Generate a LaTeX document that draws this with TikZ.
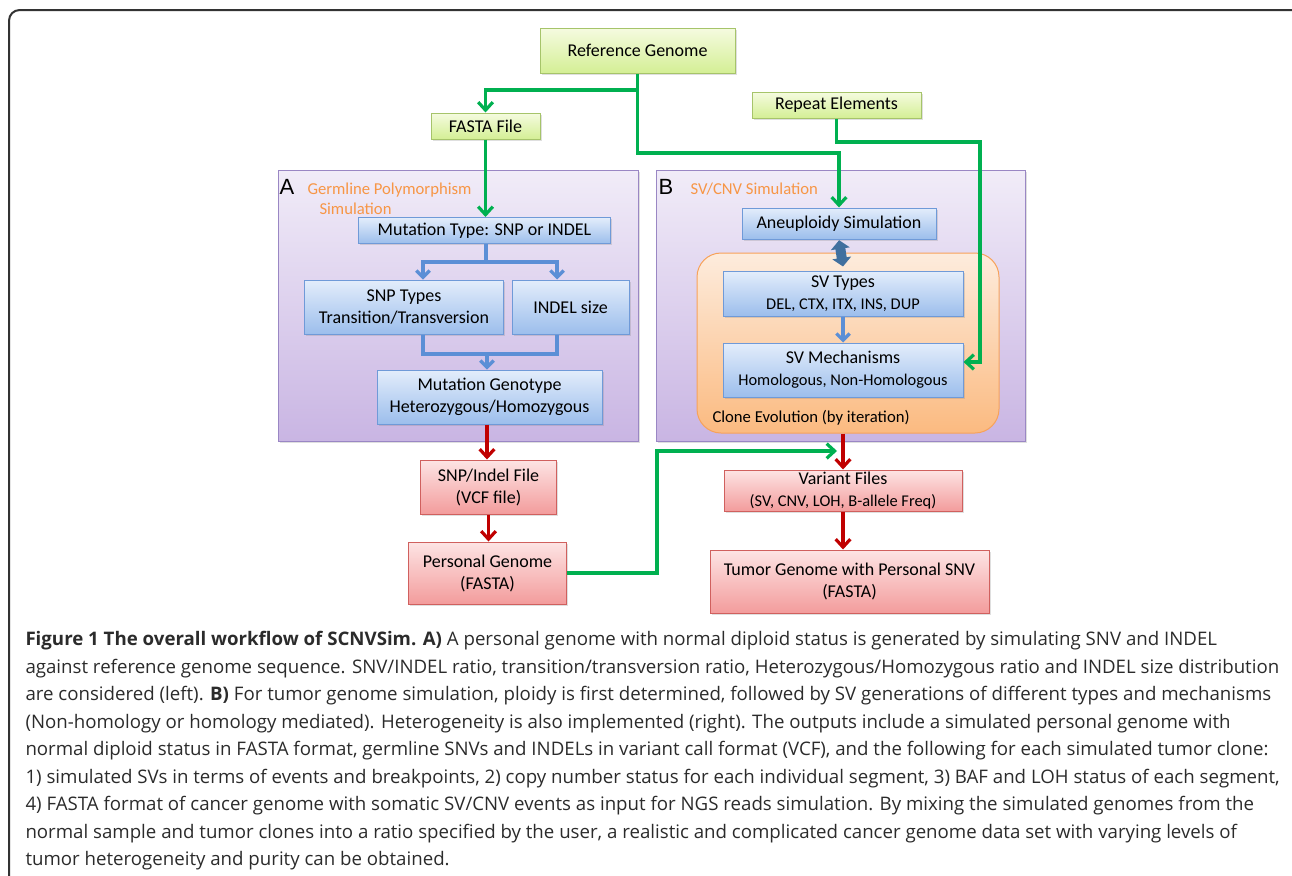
\documentclass[tikz,border=0pt]{standalone}
\usepackage{fontspec}
\setmainfont{Carlito}
\newfontfamily\letterfont{Liberation Sans}
\newfontfamily\captionfont{Open Sans}
\usetikzlibrary{arrows.meta,shadows}
\tikzset{every picture/.style={line width=0.75pt}}

\definecolor{grnline}{HTML}{00B050}
\definecolor{grnborder}{HTML}{A6C46A}
\definecolor{grntop}{HTML}{F5FBE0}
\definecolor{grnbot}{HTML}{D4EF95}
\definecolor{bluborder}{HTML}{6F9AD8}
\definecolor{blutop}{HTML}{E3EDFB}
\definecolor{blubot}{HTML}{9CBEEC}
\definecolor{bluline}{HTML}{5B8FD6}
\definecolor{redborder}{HTML}{D0605E}
\definecolor{redtop}{HTML}{FDE4E4}
\definecolor{redbot}{HTML}{F39C9C}
\definecolor{redline}{HTML}{C00000}
\definecolor{purtop}{HTML}{F1ECF8}
\definecolor{purbot}{HTML}{C9B5E3}
\definecolor{purborder}{HTML}{9A87C4}
\definecolor{orgtop}{HTML}{FDECDD}
\definecolor{orgbot}{HTML}{FBBA80}
\definecolor{orgborder}{HTML}{F7A25A}
\definecolor{orgtext}{HTML}{F79646}
\definecolor{dblblue}{HTML}{41709F}
\definecolor{captext}{HTML}{2B2B2B}
\definecolor{framecol}{HTML}{333333}

\tikzset{
  flowbox/.style={draw, inner sep=0pt, align=center, font=\fontsize{13.5}{16.5}\selectfont,
    drop shadow={opacity=0.25,shadow xshift=1.2pt,shadow yshift=-1.2pt}},
  greenbox/.style={flowbox, draw=grnborder, top color=grntop, bottom color=grnbot},
  bluebox/.style={flowbox, draw=bluborder, top color=blutop, bottom color=blubot},
  redbox/.style={flowbox, draw=redborder, top color=redtop, bottom color=redbot},
  panel/.style={draw=purborder, inner sep=0pt, top color=purtop, bottom color=purbot,
    drop shadow={opacity=0.25,shadow xshift=1.2pt,shadow yshift=-1.2pt}},
  clonebox/.style={draw=orgborder, inner sep=0pt, rounded corners=18pt, top color=orgtop, bottom color=orgbot},
  greenline/.style={draw=grnline, line width=2.4pt},
  greenarrow/.style={greenline, -{Straight Barb[length=6pt,width=11pt]}},
  blueline/.style={draw=bluline, line width=2.4pt},
  bluearrow/.style={blueline, -{Straight Barb[length=5pt,width=10pt]}},
  redarrow/.style={draw=redline, line width=2.4pt, -{Straight Barb[length=6pt,width=11pt]}},
  dblarrow/.style={draw=dblblue, line width=7.5pt, {Triangle[length=6.5pt,width=14pt]}-{Triangle[length=6.5pt,width=14pt]}},
  sublabel/.style={font=\fontsize{12.5}{15}\selectfont, text=orgtext, inner sep=0pt, align=left},
  letter/.style={font=\letterfont\fontsize{16.5}{18}\selectfont, inner sep=0pt}
}
\newcommand{\subline}[1]{{\fontsize{12.3}{15}\selectfont #1}}

\begin{document}
\begin{tikzpicture}[x=0.75pt,y=0.75pt,yscale=-1,xscale=1]
\clip (0,0) rectangle (1292,875);

%Rounded Rect (frame)
\draw [draw=framecol, line width=1.5pt, rounded corners=8pt] (9,10) rectangle (1320,920);

%Shape: Rectangle (panel A)
\node (panelA) [panel, minimum width=270pt, minimum height=203.25pt] at (458,305.5) {};
%Shape: Rectangle (panel B)
\node (panelB) [panel, minimum width=276.75pt, minimum height=203.25pt] at (840.5,305.5) {};
%Rounded Rect (clone evolution)
\node (clone) [clonebox, minimum width=226.5pt, minimum height=135pt] at (848,343) {};

% Text Node
\node (letterA) [letter, anchor=west] at (279,187) {A};
% Text Node
\node (titleA) [sublabel, anchor=north west] at (307,182) {Germline Polymorphism\\\hspace*{9pt}Simulation};
% Text Node
\node (letterB) [letter, anchor=west] at (658,187) {B};
% Text Node
\node (titleB) [sublabel, anchor=north west] at (690,182) {SV/CNV Simulation};
% Text Node
\node (cloneText) [sublabel, text=black, anchor=west] at (712,418) {Clone Evolution (by iteration)};

%Green boxes
\node (refGenome) [greenbox, minimum width=146.25pt, minimum height=33.75pt] at (637.5,50.5) {Reference Genome};
\node (fastaFile) [greenbox, minimum width=81.75pt, minimum height=19.5pt] at (485.5,126) {FASTA File};
\node (repeatEl) [greenbox, minimum width=126.75pt, minimum height=19.5pt] at (836.5,105) {Repeat Elements};

%Blue boxes, panel A
\node (mutType) [bluebox, minimum width=189pt, minimum height=19.5pt] at (484.5,230.5) {Mutation Type: SNP or INDEL};
\node (snpTypes) [bluebox, minimum width=149.25pt, minimum height=40.5pt] at (404,307) {SNP Types\\Transition/Transversion};
\node (indelSize) [bluebox, minimum width=87.75pt, minimum height=40.5pt] at (570.5,307) {INDEL size};
\node (mutGeno) [bluebox, minimum width=168.75pt, minimum height=40.5pt] at (489.5,397) {Mutation Genotype\\Heterozygous/Homozygous};

%Blue boxes, panel B
\node (aneuSim) [bluebox, minimum width=145.5pt, minimum height=23.25pt] at (839,223.5) {Aneuploidy Simulation};
\node (svTypes) [bluebox, minimum width=180pt, minimum height=33.75pt] at (843,293.5) {SV Types\\\subline{DEL, CTX, ITX, INS, DUP}};
\node (svMech) [bluebox, minimum width=180pt, minimum height=40.5pt] at (843,370) {SV Mechanisms\\\subline{Homologous, Non-Homologous}};

%Red boxes
\node (snpFile) [redbox, minimum width=102pt, minimum height=40.5pt] at (488.5,487) {SNP/Indel File\\(VCF file)};
\node (persGenome) [redbox, minimum width=118.5pt, minimum height=46.5pt] at (487.5,573) {Personal Genome\\(FASTA)};
\node (varFiles) [redbox, minimum width=178.5pt, minimum height=30.75pt] at (843,490.5) {Variant Files\\\subline{(SV, CNV, LOH, B-allele Freq)}};
\node (tumorGenome) [redbox, minimum width=209.25pt, minimum height=47.25pt] at (849.5,581.5) {Tumor Genome with Personal SNV\\(FASTA)};

%Bend points
\coordinate (refSplit) at (637.5,90);
\coordinate (refDown) at (637.5,153);
\coordinate (repBend) at (980,142);
\coordinate (repIn) at (980,362);
\coordinate (mutSplit) at (486,262);
\coordinate (splitL) at (423,262);
\coordinate (splitR) at (557,262);
\coordinate (mergeL) at (423,354);
\coordinate (mergeR) at (557,354);
\coordinate (mergeM) at (487,354);
\coordinate (persBend) at (657,451);
\coordinate (persEnd) at (837,451);

%Straight Lines (green)
\draw [greenarrow] (refGenome.south) -- (refSplit) -| (fastaFile.north);
\draw [greenarrow] (refSplit) -- (refDown) -| (aneuSim.north);
\draw [greenarrow] (repeatEl.south) |- (repBend) -- (repIn) -- (repIn -| svMech.east);
\draw [greenarrow] (fastaFile.south) -- (fastaFile.south |- mutType.north);
\draw [greenarrow] (persGenome.east) -| (persBend) -- (persEnd);

%Straight Lines (blue)
\draw [blueline] (mutType.south -| mutSplit) -- (mutSplit);
\draw [bluearrow] (mutSplit) -- (splitL) -- (splitL |- snpTypes.north);
\draw [bluearrow] (mutSplit) -- (splitR) -- (splitR |- indelSize.north);
\draw [blueline] (splitL |- snpTypes.south) -- (mergeL) -- (mergeR) -- (splitR |- indelSize.south);
\draw [bluearrow] (mergeM) -- (mergeM |- mutGeno.north);
\draw [bluearrow] (svTypes.south) -- (svMech.north);
\draw [dblarrow, shorten <=0.5pt] (aneuSim.south) -- ([yshift=-3pt]svTypes.north);

%Straight Lines (red)
\draw [redarrow] (mutGeno.south -| mergeM) -- (mergeM |- snpFile.north);
\draw [redarrow] (snpFile.south) -- (snpFile.south |- persGenome.north);
\draw [redarrow] (varFiles.north |- clone.south) -- (varFiles.north);
\draw [redarrow] (varFiles.south) -- (varFiles.south |- tumorGenome.north);

% Text Node (caption)
\node (caption) [anchor=north west, align=left, inner sep=0pt, text=captext, font=\captionfont\fontsize{14}{20.6}\selectfont] at (25,631) {%
\textbf{Figure 1 The overall workflow of SCNVSim. A)} A personal genome with normal diploid status is generated by simulating SNV and INDEL\\
against reference genome sequence. SNV/INDEL ratio, transition/transversion ratio, Heterozygous/Homozygous ratio and INDEL size distribution\\
are considered (left). \textbf{B)} For tumor genome simulation, ploidy is first determined, followed by SV generations of different types and mechanisms\\
(Non-homology or homology mediated). Heterogeneity is also implemented (right). The outputs include a simulated personal genome with\\
normal diploid status in FASTA format, germline SNVs and INDELs in variant call format (VCF), and the following for each simulated tumor clone:\\
1) simulated SVs in terms of events and breakpoints, 2) copy number status for each individual segment, 3) BAF and LOH status of each segment,\\
4) FASTA format of cancer genome with somatic SV/CNV events as input for NGS reads simulation. By mixing the simulated genomes from the\\
normal sample and tumor clones into a ratio specified by the user, a realistic and complicated cancer genome data set with varying levels of\\
tumor heterogeneity and purity can be obtained.};

\end{tikzpicture}
\end{document}
